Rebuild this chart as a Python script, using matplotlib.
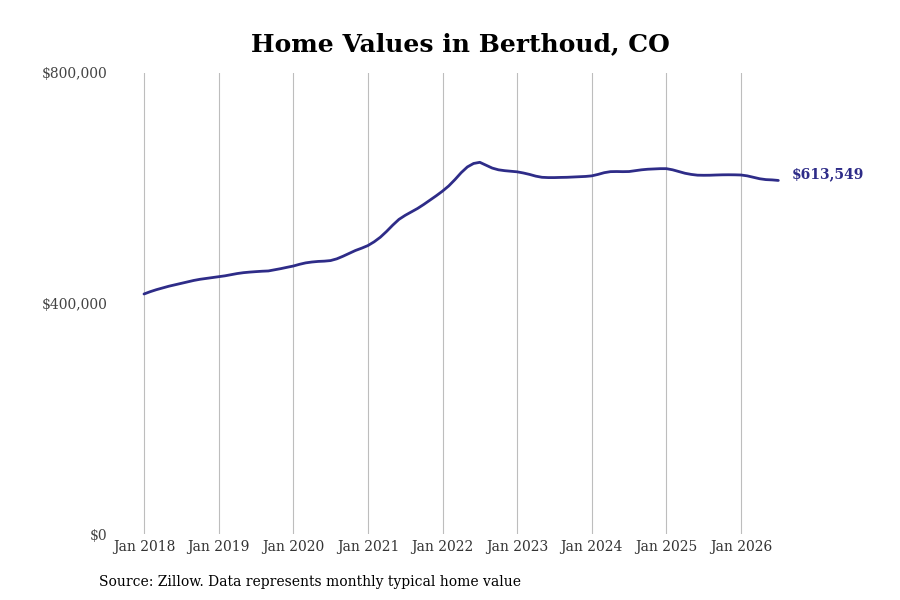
import matplotlib
matplotlib.use("Agg")
import matplotlib.pyplot as plt
import numpy as np

# Monthly typical home value (USD thousands), Jan 2018 .. Jul 2026
values_2018 = [416.5, 420.5, 424, 427, 430, 432.5, 435, 437.5, 440, 442, 443.5, 445]
values_2019 = [446.5, 448, 450, 452, 453.5, 454.5, 455.3, 456, 456.5, 458.5, 460.5, 462.8]
values_2020 = [465, 468, 470.5, 472, 473, 473.5, 474.5, 477.5, 482, 487, 492, 496]
values_2021 = [500.5, 507, 515, 525, 536, 546, 553, 559, 565, 572, 579.5, 587]
values_2022 = [595, 604, 615, 627, 637, 643, 645, 640, 635, 632, 630.5, 629.5]
values_2023 = [628.5, 626.5, 624, 621, 619, 618.5, 618.5, 618.8, 619, 619.5, 620, 620.5]
values_2024 = [621.5, 624, 627, 628.8, 629, 628.8, 629, 630.5, 632, 633, 633.5, 634]
values_2025 = [634, 632, 629, 626, 624, 622.7, 622.5, 622.6, 623, 623.3, 623.4, 623.3]
values_2026 = [623, 621.5, 619, 616.5, 615, 614.5, 613.549]

start_year = 2018
tick_years = list(range(2018, 2027))
tick_labels = [f"Jan {y}" for y in tick_years]
ytick_values = [0, 400000, 800000]
ytick_labels = ["$0", "$400,000", "$800,000"]
title = "Home Values in Berthoud, CO"
source = "Source: Zillow. Data represents monthly typical home value"

values = np.array(values_2018 + values_2019 + values_2020 + values_2021 + values_2022
                  + values_2023 + values_2024 + values_2025 + values_2026) * 1000
x = start_year + np.arange(len(values)) / 12.0

line_color = "#2e2c88"
serif = ["DejaVu Serif"]

fig = plt.figure(figsize=(9, 6), dpi=100)
ax = fig.add_axes([112 / 900, 1 - 534 / 600, (780 - 112) / 900, (534 - 73) / 600])

ax.plot(x, values, color=line_color, lw=2.0, solid_capstyle="round")

ax.set_xlim(2018 - 32 / 74.625, 2018 + 636 / 74.625)
ax.set_ylim(0, 800000)

ax.set_xticks(tick_years)
ax.set_xticklabels(tick_labels, fontfamily=serif, fontsize=10, color="#333333")
ax.set_yticks(ytick_values)
ax.set_yticklabels(ytick_labels, fontfamily=serif, fontsize=10, color="#444444")
ax.tick_params(axis="both", length=0)
ax.tick_params(axis="x", pad=4)
ax.tick_params(axis="y", pad=3.5)

ax.grid(axis="x", color="#bdbdbd", lw=0.8)
ax.grid(axis="y", visible=False)
for s in ax.spines.values():
    s.set_visible(False)

ax.annotate(f"${values[-1]:,.0f}", xy=(x[-1], values[-1]), xytext=(10, 4.6),
            textcoords="offset points", ha="left", va="center",
            fontfamily=serif, fontsize=10, fontweight="bold", color=line_color)

fig.text(0.512, 1 - 44 / 600, title, ha="center", va="center",
         fontfamily=serif, fontsize=18, fontweight="bold", color="black")
fig.text(99 / 900, 1 - 582 / 600, source, ha="left", va="center",
         fontfamily=serif, fontsize=10, color="black")

fig.savefig("out.png", dpi=100)
